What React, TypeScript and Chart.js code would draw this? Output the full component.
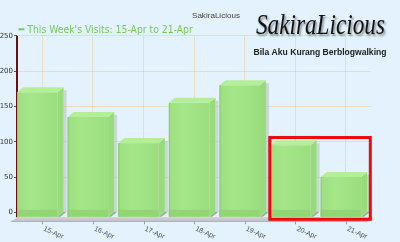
import React, { useEffect, useRef } from "react";
import { Chart, registerables } from "chart.js";

Chart.register(...registerables);

const categories = ["15-Apr", "16-Apr", "17-Apr", "18-Apr", "19-Apr", "20-Apr", "21-Apr"];
const visits = [170, 135, 98, 155, 180, 95, 50];
const yTicks = [0, 50, 100, 150, 200, 250];
const seriesLabel = "This Week's Visits: 15-Apr to 21-Apr";
const chartTitle = "SakiraLicious";
const logoTitle = "SakiraLicious";
const logoSubtitle = "Bila Aku Kurang Berblogwalking";
const highlighted = ["20-Apr", "21-Apr"];

const BG = "#E3F2FC";
const GRID = "rgba(245, 190, 100, 0.38)";
const GREEN_TEXT = "#78CA58";

function fitText(ctx: CanvasRenderingContext2D, text: string, x: number, y: number, font: string, targetW: number) {
  ctx.font = font;
  const w = ctx.measureText(text).width;
  const s = targetW / w;
  ctx.save();
  ctx.translate(x, y);
  ctx.scale(s, 1);
  ctx.fillText(text, 0, 0);
  ctx.restore();
}

const backgroundPlugin = {
  id: "bgPlugin",
  beforeDraw(chart: any) {
    const { ctx, width, height } = chart;
    ctx.save();
    ctx.fillStyle = BG;
    ctx.fillRect(0, 0, width, height);
    ctx.restore();
  },
};

const bars3dPlugin = {
  id: "bars3d",
  beforeDatasetsDraw(chart: any) {
    const { ctx, chartArea } = chart;
    const meta = chart.getDatasetMeta(0);
    const first = meta.data[0];
    const catW = first.width;
    const dx = catW * 0.12;
    const dy = 5;
    const yS = chart.scales.y;
    const zeroY = yS.getPixelForValue(0);
    ctx.save();
    // y axis line
    ctx.strokeStyle = "#6B1010";
    ctx.lineWidth = 2;
    ctx.beginPath();
    ctx.moveTo(chartArea.left, chartArea.top);
    ctx.lineTo(chartArea.left, zeroY + dy);
    ctx.stroke();

    // floor
    const fTop = zeroY + dy;
    const fBot = fTop + 4.5;
    ctx.fillStyle = "#C8CBCE";
    ctx.beginPath();
    ctx.moveTo(chartArea.left, fTop);
    ctx.lineTo(chartArea.right + 2, fTop);
    ctx.lineTo(chartArea.right + 2 - dx, fBot);
    ctx.lineTo(chartArea.left - dx, fBot);
    ctx.closePath();
    ctx.fill();
    ctx.strokeStyle = "#A8ACB0";
    ctx.lineWidth = 1;
    ctx.beginPath();
    ctx.moveTo(chartArea.left - dx, fBot - 0.5);
    ctx.lineTo(chartArea.right + 2 - dx, fBot - 0.5);
    ctx.stroke();

    meta.data.forEach((el: any) => {
      const p = el.getProps(["x", "y", "base", "width"], true);
      const L = p.x - p.width / 2;
      const fw = p.width * 0.8;
      const top = p.y;
      const bottom = p.base + dy;
      // shadow strip on the right
      ctx.fillStyle = "rgba(165,170,175,0.4)";
      ctx.fillRect(L + fw + dx, top - dy + 3, 3, bottom - dy - (top - dy + 3));
      // base shadow on floor
      ctx.fillStyle = "#A2A5A9";
      ctx.beginPath();
      ctx.moveTo(L + fw, bottom);
      ctx.lineTo(L + fw + dx, bottom - dy);
      ctx.lineTo(L + fw + dx + 3, bottom - dy);
      ctx.lineTo(L + fw + 3, bottom);
      ctx.closePath();
      ctx.fill();
      // side face
      ctx.fillStyle = "#98DA7C";
      ctx.beginPath();
      ctx.moveTo(L + fw, top);
      ctx.lineTo(L + fw + dx, top - dy);
      ctx.lineTo(L + fw + dx, bottom - dy);
      ctx.lineTo(L + fw, bottom);
      ctx.closePath();
      ctx.fill();
      // front face
      const g = ctx.createLinearGradient(L, 0, L + fw, 0);
      g.addColorStop(0, "#9CDF80");
      g.addColorStop(0.35, "#A6E68A");
      g.addColorStop(1, "#9ADE7E");
      ctx.fillStyle = g;
      ctx.fillRect(L, top, fw, bottom - top);
      // bottom darker band
      ctx.fillStyle = "#92D575";
      ctx.fillRect(L, bottom - 7, fw, 7);
      // left edge
      ctx.fillStyle = "#80D35E";
      ctx.fillRect(L, top, 1, bottom - top);
      // top face
      ctx.fillStyle = "#B4EF97";
      ctx.beginPath();
      ctx.moveTo(L, top);
      ctx.lineTo(L + dx, top - dy);
      ctx.lineTo(L + fw + dx, top - dy);
      ctx.lineTo(L + fw, top);
      ctx.closePath();
      ctx.fill();
    });
    ctx.restore();
  },
};

const overlayPlugin = {
  id: "overlay",
  afterDraw(chart: any) {
    const { ctx } = chart;
    const meta = chart.getDatasetMeta(0);
    const xS = chart.scales.x;
    const yS = chart.scales.y;
    const zeroY = yS.getPixelForValue(0);
    ctx.save();

    // x tick marks and rotated labels
    categories.forEach((c, i) => {
      const tx = xS.getPixelForTick(i);
      ctx.strokeStyle = "#9A9A9A";
      ctx.lineWidth = 1;
      ctx.beginPath();
      ctx.moveTo(Math.round(tx) + 0.5, zeroY + 9);
      ctx.lineTo(Math.round(tx) + 0.5, zeroY + 12);
      ctx.stroke();
      ctx.save();
      ctx.translate(tx + 3, zeroY + 13);
      ctx.rotate(0.42);
      ctx.fillStyle = "#555";
      ctx.font = '7px "Liberation Sans"';
      ctx.textBaseline = "top";
      ctx.textAlign = "left";
      ctx.fillText(c, 0, 0);
      ctx.restore();
    });

    // highlight box
    const idxs = highlighted.map((h) => categories.indexOf(h));
    const e0 = meta.data[idxs[0]];
    const e1 = meta.data[idxs[idxs.length - 1]];
    const maxV = Math.max(...idxs.map((i) => visits[i]));
    const left = e0.x - e0.width / 2 - 0.3;
    const right = e1.x + e1.width / 2 - 1;
    const top = yS.getPixelForValue(maxV) - 7.7;
    const bottom = zeroY + 7;
    ctx.strokeStyle = "#EC0A0A";
    ctx.lineWidth = 3;
    ctx.strokeRect(left, top, right - left, bottom - top);

    // title
    ctx.fillStyle = "#444";
    ctx.textBaseline = "alphabetic";
    ctx.textAlign = "left";
    fitText(ctx, chartTitle, 192, 18, '8px "Liberation Sans"', 48);

    // legend
    ctx.strokeStyle = GREEN_TEXT;
    ctx.lineWidth = 2;
    ctx.beginPath();
    ctx.moveTo(18.5, 29.3);
    ctx.lineTo(24.5, 29.3);
    ctx.stroke();
    ctx.fillStyle = GREEN_TEXT;
    fitText(ctx, seriesLabel, 27.3, 33.3, '10.5px "DejaVu Sans"', 165.5);

    // logo
    ctx.save();
    ctx.shadowColor = "rgba(110,110,110,0.75)";
    ctx.shadowOffsetX = 1.5;
    ctx.shadowOffsetY = 1.5;
    ctx.shadowBlur = 2;
    ctx.fillStyle = "#111";
    fitText(ctx, logoTitle, 256, 34, 'italic 29px "Liberation Serif"', 129);
    ctx.restore();
    ctx.fillStyle = "#222";
    fitText(ctx, logoSubtitle, 253.5, 54.5, 'bold 9.5px "Liberation Sans"', 133);

    ctx.restore();
  },
};

export default function App() {
  const ref = useRef<HTMLCanvasElement | null>(null);
  useEffect(() => {
    if (!ref.current) return;
    const chart = new Chart(ref.current, {
      type: "bar",
      data: {
        labels: categories,
        datasets: [
          {
            label: seriesLabel,
            data: visits,
            backgroundColor: "rgba(0,0,0,0)",
            borderWidth: 0,
            barPercentage: 1,
            categoryPercentage: 1,
          },
        ],
      },
      options: {
        responsive: false,
        animation: false,
        layout: { padding: { top: 35.8, right: 28.7, left: 0, bottom: 0 } },
        plugins: {
          legend: { display: false },
          title: { display: false },
          tooltip: { enabled: false },
        },
        scales: {
          x: {
            offset: true,
            z: 1,
            grid: { offset: false, color: GRID, drawTicks: false, lineWidth: 1 },
            border: { display: false },
            ticks: { display: false },
            afterFit: (s: any) => {
              s.height = 29.7;
            },
          },
          y: {
            min: 0,
            max: 250,
            z: 1,
            afterBuildTicks: (s: any) => {
              s.ticks = yTicks.map((v) => ({ value: v }));
            },
            grid: {
              color: (c: any) => (c.tick && c.tick.value === 0 ? "rgba(0,0,0,0)" : GRID),
              tickColor: "#555",
              tickLength: 3,
            },
            border: { display: false },
            ticks: { font: { size: 7, family: "DejaVu Sans" }, color: "#333", padding: 1 },
            afterFit: (s: any) => {
              s.width = 17;
            },
          },
        },
      },
      plugins: [backgroundPlugin, bars3dPlugin, overlayPlugin],
    } as any);
    return () => chart.destroy();
  }, []);
  return (
    <div style={{ position: "absolute", left: 0, top: 0, width: 400, height: 242 }}>
      <canvas ref={ref} width={400} height={242} style={{ display: "block" }} />
    </div>
  );
}
